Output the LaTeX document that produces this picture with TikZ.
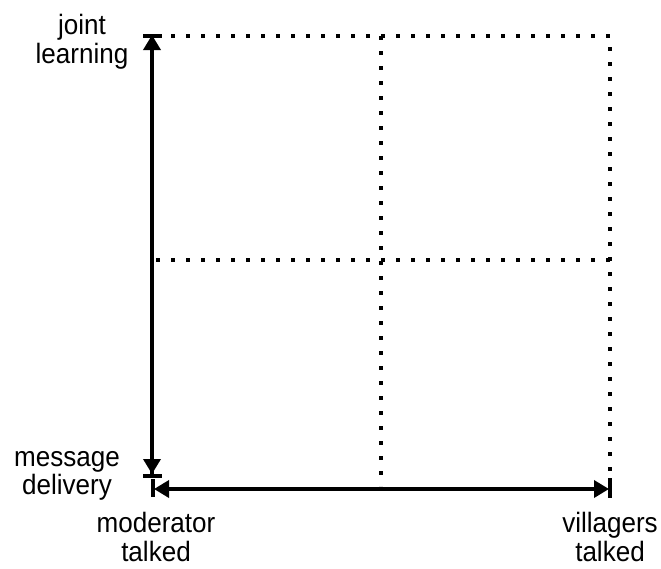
\documentclass[tikz,border=0pt]{standalone}
\usepackage{fontspec}
\setmainfont[FakeStretch=0.93]{Liberation Sans}
\usetikzlibrary{arrows.meta}
\begin{document}
\begin{tikzpicture}[x=1pt,y=-1pt,
  axis/.style={line width=3.5pt,-{Triangle[length=15pt,width=17pt]}},
  tickbar/.style={line width=3.5pt},
  grid/.style={line width=3.5pt,dash pattern=on 3.5pt off 11.5pt},
  lbl/.style={font=\fontsize{28}{28.5}\selectfont,align=center,inner sep=0pt}]
\useasboundingbox (0,0) rectangle (661,568);
% coordinates
\coordinate (vtop) at (152,35);
\coordinate (vbot) at (152,474);
\coordinate (hl) at (154,489);
\coordinate (hr) at (609,489);
% dotted grid
\draw[grid] (171,36) -- (610,36) -- (610,472);
\draw[grid] (381,36) -- (381,486);
\draw[grid] (156,260) -- (610,260);
% axes
\draw[axis] (152,476) -- (vtop);
\draw[axis] (152,40) -- (vbot);
\draw[axis] (605,489) -- (hl);
\draw[axis] (160,489) -- (hr);
% bars
\draw[tickbar] (143,36) -- (162,36);
\draw[tickbar] (143,476) -- (162,476);
\draw[tickbar] (153,479) -- (153,497);
\draw[tickbar] (610,478) -- (610,498);
% labels
\node[lbl] (jl) at (82,42) {joint\\learning};
\node[lbl] (md) at (67,476) {message\\delivery};
\node[lbl] (mt) at (156,537) {moderator\\talked};
\node[lbl] (vt) at (610,537) {villagers\\talked};
\end{tikzpicture}
\end{document}
